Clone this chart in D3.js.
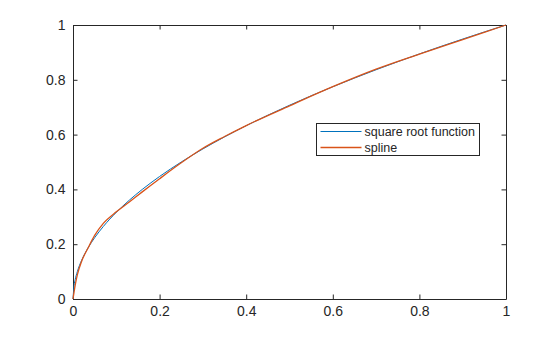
<!DOCTYPE html>
<html>
<head>
<meta charset="utf-8">
<script src="https://cdn.jsdelivr.net/npm/d3@7"></script>
<style>
  body { margin: 0; background: #fff; }
</style>
</head>
<body>
<div id="chart"></div>
<script>
// values
var xVals = [0, 0.0025, 0.005, 0.01, 0.02, 0.035, 0.05, 0.07, 0.1, 0.13, 0.16, 0.2, 0.25, 0.3, 0.35, 0.4, 0.5, 0.6, 0.7, 0.8, 0.9, 1];
var sqrtVals = [0, 0.05, 0.0707, 0.1, 0.1414, 0.1871, 0.2236, 0.2646, 0.3162, 0.3606, 0.4, 0.4472, 0.5, 0.5477, 0.5916, 0.6325, 0.7071, 0.7746, 0.8367, 0.8944, 0.9487, 1];
var splineVals = [0, 0.026, 0.05, 0.088, 0.138, 0.187, 0.232, 0.276, 0.318, 0.354, 0.391, 0.439, 0.497, 0.55, 0.593, 0.633, 0.705, 0.775, 0.839, 0.894, 0.947, 1];
var seriesNames = ["square root function", "spline"];
var xTicks = [0, 0.2, 0.4, 0.6, 0.8, 1];
var yTicks = [0, 0.2, 0.4, 0.6, 0.8, 1];

var svgWidth = 560, svgHeight = 337;
var margin = {top: 25, right: 54, bottom: 38, left: 73};
var width = svgWidth - margin.left - margin.right;
var height = svgHeight - margin.top - margin.bottom;

var svg = d3.select("#chart").append("svg")
  .attr("width", svgWidth)
  .attr("height", svgHeight)
  .style("font-family", "Arial, 'Liberation Sans', sans-serif");

var chartGroup = svg.append("g")
  .attr("transform", `translate(${margin.left}, ${margin.top})`);

var xScale = d3.scaleLinear().domain([0, 1]).range([0, width]);
var yScale = d3.scaleLinear().domain([0, 1]).range([height, 0]);

var fmt = d => d === 0 || d === 1 ? String(d) : d.toFixed(1);

// axes with inward ticks on all four sides
function styleAxis(g) {
  g.attr("font-size", 14).attr("font-family", "Arial, 'Liberation Sans', sans-serif");
  g.select(".domain").attr("stroke", "#262626");
  g.selectAll(".tick line").attr("stroke", "#262626");
  g.selectAll("text").attr("fill", "#262626");
}

chartGroup.append("g")
  .attr("transform", `translate(0, ${height})`)
  .call(d3.axisBottom(xScale).tickValues(xTicks).tickFormat(fmt).tickSizeInner(-4.5).tickSizeOuter(0).tickPadding(7))
  .call(styleAxis);

chartGroup.append("g")
  .call(d3.axisTop(xScale).tickValues(xTicks).tickFormat("").tickSizeInner(-4.5).tickSizeOuter(0))
  .call(styleAxis);

chartGroup.append("g")
  .call(d3.axisLeft(yScale).tickValues(yTicks).tickFormat(fmt).tickSizeInner(-4.5).tickSizeOuter(0).tickPadding(7.5))
  .call(styleAxis);

chartGroup.append("g")
  .attr("transform", `translate(${width}, 0)`)
  .call(d3.axisRight(yScale).tickValues(yTicks).tickFormat("").tickSizeInner(-4.5).tickSizeOuter(0))
  .call(styleAxis);

// lines
var sqrtData = xVals.map((x, i) => ({x: x, y: sqrtVals[i]}));
var splineData = xVals.map((x, i) => ({x: x, y: splineVals[i]}));

var line = d3.line()
  .x(d => xScale(d.x))
  .y(d => yScale(d.y))
  .curve(d3.curveMonotoneX);

chartGroup.append("path")
  .datum(sqrtData)
  .attr("fill", "none")
  .attr("stroke", "#0072BD")
  .attr("stroke-width", 1)
  .attr("d", line);

chartGroup.append("path")
  .datum(splineData)
  .attr("fill", "none")
  .attr("stroke", "#D95319")
  .attr("stroke-width", 1.3)
  .attr("d", line);

// legend
var legend = svg.append("g").attr("transform", "translate(316.5, 123.5)");
legend.append("rect")
  .attr("width", 163)
  .attr("height", 32)
  .attr("fill", "#fff")
  .attr("stroke", "#262626")
  .attr("stroke-width", 1);

var colors = ["#0072BD", "#D95319"];
seriesNames.forEach((name, i) => {
  var yy = 8 + i * 16;
  legend.append("line")
    .attr("x1", 4).attr("x2", 45)
    .attr("y1", yy).attr("y2", yy)
    .attr("stroke", colors[i])
    .attr("stroke-width", i === 0 ? 1 : 1.5);
  legend.append("text")
    .attr("x", 48)
    .attr("y", yy)
    .attr("dy", "0.35em")
    .attr("font-size", 12.5)
    .attr("fill", "#262626")
    .text(name);
});
</script>
</body>
</html>
